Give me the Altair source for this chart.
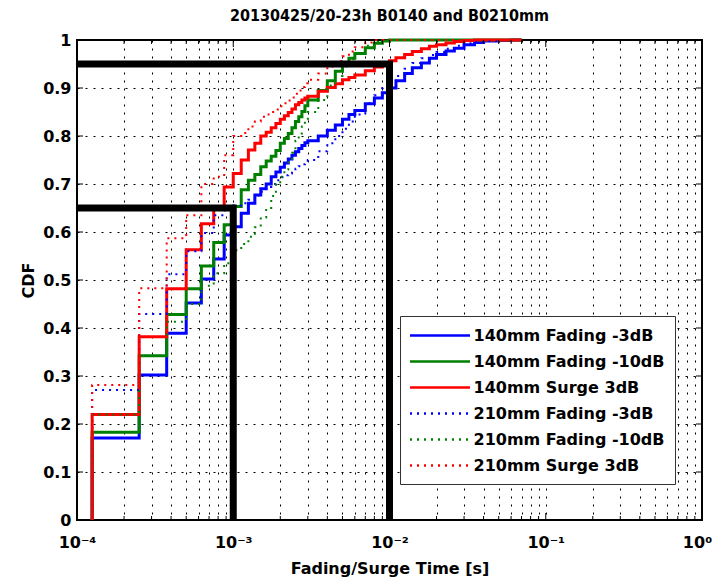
import altair as alt
import pandas as pd

TITLE = "20130425/20-23h B0140 and B0210mm"
X_TITLE = "Fading/Surge Time [s]"
Y_TITLE = "CDF"

SERIES = ["140mm Fading -3dB", "140mm Fading -10dB", "140mm Surge 3dB",
          "210mm Fading -3dB", "210mm Fading -10dB", "210mm Surge 3dB"]
COLORS = ["#0000ff", "#008000", "#ff0000", "#0000ff", "#008000", "#ff0000"]
DASHES = [[1, 0], [1, 0], [1, 0], [2, 5], [2, 5], [2, 5]]

# time grid (s): sampling steps, then coarser tail
T_STEP = [0.000125, 0.00025, 0.000375, 0.0005, 0.000625, 0.00075, 0.000875, 0.001,
          0.001125, 0.00125, 0.001375, 0.0015, 0.001625, 0.00175, 0.001875, 0.002,
          0.002125, 0.00225, 0.002375, 0.0025, 0.002625, 0.00275, 0.002875, 0.003]
T_TAIL = [0.0035, 0.004, 0.0045, 0.005, 0.0055, 0.006, 0.007, 0.008, 0.009, 0.01,
          0.011, 0.0125, 0.014, 0.016, 0.018, 0.02, 0.023, 0.026, 0.03, 0.035,
          0.04, 0.05, 0.06, 0.07]

B140_F3 = [0.171, 0.302, 0.389, 0.452, 0.502, 0.544, 0.594, 0.611, 0.639, 0.660, 0.677, 0.690,
           0.700, 0.715, 0.725, 0.735, 0.744, 0.752, 0.760, 0.767, 0.774, 0.780, 0.786, 0.790,
           0.800, 0.812, 0.823, 0.835, 0.845, 0.853, 0.867, 0.879, 0.890, 0.900, 0.915, 0.930,
           0.942, 0.952, 0.962, 0.970, 0.977, 0.983, 0.990, 0.995, 0.998, 0.999, 1.0, 1.0]
B140_F10 = [0.183, 0.342, 0.428, 0.482, 0.529, 0.578, 0.615, 0.653, 0.688, 0.708, 0.720, 0.736,
            0.748, 0.758, 0.770, 0.785, 0.795, 0.805, 0.817, 0.830, 0.840, 0.851, 0.863, 0.875,
            0.895, 0.915, 0.935, 0.950, 0.962, 0.972, 0.984, 0.993, 0.998, 1.0, 1.0, 1.0,
            1.0, 1.0, 1.0, 1.0, 1.0, 1.0, 1.0, 1.0, 1.0, 1.0, 1.0, 1.0]
B140_S3 = [0.220, 0.382, 0.482, 0.563, 0.617, 0.648, 0.694, 0.722, 0.750, 0.771, 0.785, 0.800,
           0.808, 0.817, 0.826, 0.835, 0.842, 0.849, 0.856, 0.865, 0.870, 0.875, 0.879, 0.883,
           0.893, 0.901, 0.909, 0.917, 0.922, 0.927, 0.936, 0.944, 0.951, 0.957, 0.963, 0.970,
           0.976, 0.982, 0.987, 0.990, 0.994, 0.997, 0.999, 1.0, 1.0, 1.0, 1.0, 1.0]
B210_F3 = [0.271, 0.429, 0.512, 0.560, 0.598, 0.635, 0.645, 0.655, 0.660, 0.667, 0.676, 0.684,
           0.694, 0.700, 0.708, 0.714, 0.718, 0.722, 0.727, 0.732, 0.737, 0.741, 0.746, 0.750,
           0.768, 0.785, 0.800, 0.815, 0.830, 0.845, 0.868, 0.885, 0.900, 0.915, 0.925, 0.940,
           0.952, 0.962, 0.969, 0.975, 0.982, 0.988, 0.993, 0.996, 0.998, 1.0, 1.0, 1.0]
B210_F10 = [0.220, 0.342, 0.413, 0.450, 0.488, 0.514, 0.535, 0.562, 0.575, 0.590, 0.610, 0.630,
            0.650, 0.675, 0.700, 0.715, 0.730, 0.745, 0.765, 0.790, 0.805, 0.820, 0.835, 0.850,
            0.875, 0.905, 0.925, 0.945, 0.960, 0.972, 0.988, 0.996, 1.0, 1.0, 1.0, 1.0,
            1.0, 1.0, 1.0, 1.0, 1.0, 1.0, 1.0, 1.0, 1.0, 1.0, 1.0, 1.0]
B210_S3 = [0.281, 0.483, 0.587, 0.635, 0.700, 0.715, 0.760, 0.800, 0.806, 0.820, 0.830, 0.840,
           0.845, 0.850, 0.855, 0.862, 0.868, 0.874, 0.880, 0.888, 0.895, 0.902, 0.910, 0.917,
           0.930, 0.945, 0.956, 0.966, 0.976, 0.985, 0.995, 1.0, 1.0, 1.0, 1.0, 1.0,
           1.0, 1.0, 1.0, 1.0, 1.0, 1.0, 1.0, 1.0, 1.0, 1.0, 1.0, 1.0]
VALUES = [B140_F3, B140_F10, B140_S3, B210_F3, B210_F10, B210_S3]

# thick black marker lines
REF_GROUP = ["a", "a", "a", "b", "b", "b"]
REF_T = [0.0001, 0.01, 0.01, 0.0001, 0.001, 0.001]
REF_V = [0.95, 0.95, 0.0, 0.65, 0.65, 0.0]

X_MAJOR = [0.0001, 0.001, 0.01, 0.1, 1.0]
X_MINOR = [0.0002, 0.0003, 0.0004, 0.0005, 0.0006, 0.0007, 0.0008, 0.0009,
           0.002, 0.003, 0.004, 0.005, 0.006, 0.007, 0.008, 0.009,
           0.02, 0.03, 0.04, 0.05, 0.06, 0.07, 0.08, 0.09,
           0.2, 0.3, 0.4, 0.5, 0.6, 0.7, 0.8, 0.9]
Y_TICKS = [0.0, 0.1, 0.2, 0.3, 0.4, 0.5, 0.6, 0.7, 0.8, 0.9, 1.0]

W, H = 625, 480
FONT = "DejaVu Sans"

rows = []
for name, vals in zip(SERIES, VALUES):
    ts = [T_STEP[0]] + T_STEP + T_TAIL
    vs = [0.0] + vals
    for i, (t, v) in enumerate(zip(ts, vs)):
        rows.append({"series": name, "t": t, "cdf": v, "i": i})
df = pd.DataFrame(rows)

xscale = alt.Scale(type="log", domain=[0.0001, 1.0], nice=False)
yscale = alt.Scale(domain=[0, 1], nice=False, zero=False)
color_scale = alt.Scale(domain=SERIES, range=COLORS)
dash_scale = alt.Scale(domain=SERIES, range=DASHES)

sup_expr = ("replace(replace(replace(replace(replace(replace('' + round(log(datum.value)/LN10),"
            "'-','⁻'),'4','⁴'),'3','³'),'2','²'),'1','¹'),'0','⁰')")
x_label_expr = ("abs(log(datum.value)/LN10 - round(log(datum.value)/LN10)) < 0.001 ? '10' + "
                + sup_expr + " : ''")

x_axis = alt.Axis(values=X_MAJOR + X_MINOR, grid=True, gridColor="#000", gridDash=[2, 6],
                  gridWidth=1, gridOpacity=1, ticks=False, domain=False,
                  labelExpr=x_label_expr, labelFlush=False, labelOverlap=False,
                  labelOffset={"condition": {"test": "datum.value >= 1", "value": -5}, "value": 0},
                  labelFont=FONT, labelFontWeight="bold", labelFontSize=16, labelColor="#000",
                  labelPadding=14, title=X_TITLE, titleFont=FONT, titleFontWeight="bold",
                  titleFontSize=16, titleColor="#000", titleY=48, titleBaseline="middle")
y_axis = alt.Axis(values=Y_TICKS, grid=True, gridColor="#000", gridDash=[2, 6], gridWidth=1,
                  gridOpacity=1, ticks=False, domain=False,
                  labelExpr="datum.value == 0 ? '0' : datum.value == 1 ? '1' : format(datum.value, '.1f')",
                  labelFlush=False, labelFont=FONT, labelFontWeight="bold", labelFontSize=16,
                  labelColor="#000", labelPadding=6, title=Y_TITLE, titleFont=FONT,
                  titleFontWeight="bold", titleFontSize=16, titleColor="#000", titleAngle=270,
                  titleX=-49, titleY=H / 2, titleAlign="center", titleBaseline="middle")

legend = alt.Legend(title=None, orient="none", legendX=323, legendY=276)

X_ENC = alt.X("t:Q", scale=xscale, axis=x_axis)

base = alt.Chart(df)
solid = base.transform_filter(alt.FieldOneOfPredicate(field="series", oneOf=SERIES[:3])).mark_line(
    interpolate="step-after", strokeWidth=3, strokeCap="butt", strokeJoin="miter"
).encode(
    x=X_ENC,
    y=alt.Y("cdf:Q", scale=yscale, axis=y_axis),
    color=alt.Color("series:N", scale=color_scale, legend=legend),
    strokeDash=alt.StrokeDash("series:N", scale=dash_scale, legend=legend),
    order=alt.Order("i:Q"),
)
dotted = base.transform_filter(alt.FieldOneOfPredicate(field="series", oneOf=SERIES[3:])).mark_line(
    interpolate="step-after", strokeWidth=2, strokeCap="butt", strokeJoin="miter"
).encode(
    x=X_ENC,
    y=alt.Y("cdf:Q", scale=yscale, axis=y_axis),
    color=alt.Color("series:N", scale=color_scale, legend=legend),
    strokeDash=alt.StrokeDash("series:N", scale=dash_scale, legend=legend),
    order=alt.Order("i:Q"),
)

ref_df = pd.DataFrame({"g": REF_GROUP, "t": REF_T, "cdf": REF_V, "i": list(range(len(REF_T)))})
ref = alt.Chart(ref_df).mark_line(color="#000", strokeWidth=7, strokeJoin="miter",
                                  strokeCap="butt").encode(
    x=X_ENC,
    y=alt.Y("cdf:Q", scale=yscale, axis=y_axis),
    detail="g:N",
    order=alt.Order("i:Q"),
)

maj_df = pd.DataFrame({"t": X_MAJOR})
min_df = pd.DataFrame({"t": X_MINOR})
yt_df = pd.DataFrame({"cdf": Y_TICKS})


def xticks(d, y0, y1):
    return alt.Chart(d).mark_rule(color="#000", strokeWidth=1).encode(
        x=X_ENC, y=alt.value(y0), y2=alt.value(y1))


def yticks(x0, x1):
    return alt.Chart(yt_df).mark_rule(color="#000", strokeWidth=1).encode(
        y=alt.Y("cdf:Q", scale=yscale, axis=y_axis), x=alt.value(x0), x2=alt.value(x1))


ticks = [xticks(maj_df, H, H - 7), xticks(min_df, H, H - 4),
         xticks(maj_df, 0, 7), xticks(min_df, 0, 4),
         yticks(0, 6), yticks(W, W - 6)]

chart = alt.layer(solid, dotted, ref, *ticks).properties(
    width=W, height=H,
    title=alt.TitleParams(TITLE, font="DejaVu Sans Condensed, DejaVu Sans", fontSize=16,
                          fontWeight="bold", color="#000", anchor="middle", frame="group",
                          offset=8),
    autosize=alt.AutoSizeParams(type="none"),
    padding={"left": 77, "top": 40, "right": 12, "bottom": 63},
    background="#ffffff",
).configure_view(stroke="#000", strokeWidth=2).configure_legend(
    padding=10, rowPadding=8, labelOffset=24, symbolOffset=20.5,
    symbolType="M-3.75,0H3.75", symbolSize=256,
    symbolStrokeWidth=2.5, labelFont=FONT, labelFontWeight="bold", labelFontSize=16,
    labelColor="#000", labelLimit=400, fillColor="#fff", strokeColor="#333", strokeWidth=1,
)

chart.save("out.html", embed_options={"renderer": "svg", "actions": False})
